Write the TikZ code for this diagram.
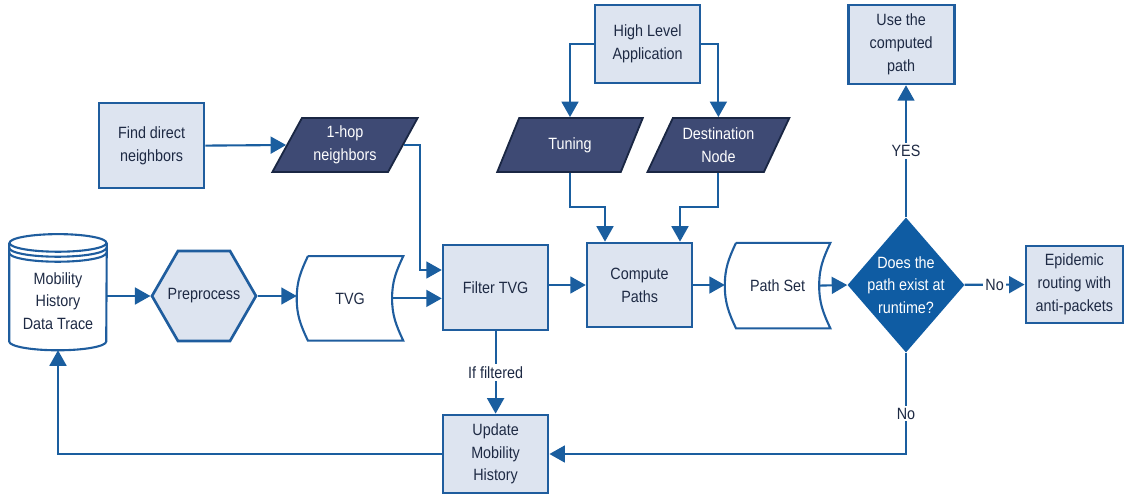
\documentclass[tikz,border=0pt]{standalone}
\usepackage{fontspec}
\setmainfont{Liberation Sans}[FakeStretch=0.88]
\usepackage{xcolor}
\usetikzlibrary{shapes.geometric, arrows.meta, calc}

\definecolor{boxfill}{HTML}{DDE4F0}
\definecolor{boxline}{HTML}{1F5D9E}
\definecolor{navy}{HTML}{3E4A74}
\definecolor{navyline}{HTML}{1A2744}
\definecolor{decfill}{HTML}{0F5CA3}
\definecolor{arrowc}{HTML}{1A5E9F}
\definecolor{txt}{HTML}{1E2A44}

\tikzset{
  procbox/.style={draw=boxline, fill=boxfill, line width=1.9pt, minimum width=2.625cm,
    minimum height=2.125cm, align=center, text=txt, inner sep=2pt},
  iobox/.style={trapezium, trapezium left angle=61, trapezium right angle=119,
    trapezium stretches=true, draw=navyline, fill=navy, line width=1.3pt, text=white,
    minimum width=3.65cm, minimum height=1.35cm, align=center, inner sep=1pt},
  storebox/.style={minimum width=2.65cm, minimum height=2.1cm, align=center, text=txt},
  storeline/.style={draw=boxline, line width=1.5pt},
  prepbox/.style={regular polygon, regular polygon sides=6, minimum size=2.6cm, inner sep=0pt,
    draw=boxline, fill=boxfill, line width=1.9pt},
  decision/.style={diamond, fill=decfill, inner sep=0pt, minimum width=2.925cm,
    minimum height=3.375cm},
  dectext/.style={text=white, align=center},
  arr/.style={draw=arrowc, line width=1.5pt, -{Triangle[length=11pt,width=12pt]}},
  lbl/.style={fill=white, text=txt, inner sep=1.5pt},
}

% stored data outline around a node
\newcommand{\storedshape}[1]{%
  \draw[storeline] ([xshift=0.28cm]#1.north west) -- (#1.north east)
    to[out=-115, in=90] ([xshift=-0.28cm]#1.east)
    to[out=-90, in=115] (#1.south east)
    -- ([xshift=0.28cm]#1.south west)
    to[out=115, in=-90] (#1.west)
    to[out=90, in=-115] ([xshift=0.28cm]#1.north west);}

\begin{document}
\begin{tikzpicture}[font=\fontsize{11.6}{16.2}\selectfont]
    \useasboundingbox (0,0) rectangle (28.1,-12.375);

    % Database
    \node[minimum width=2.425cm, minimum height=2.45cm, align=center, text=txt] (cyl) at (1.45,-7.525) {Mobility\\History\\Data Trace};
    \draw[storeline, fill=white] ([yshift=0.22cm]cyl.north) ellipse[x radius=1.2125cm, y radius=0.22cm];
    \draw[storeline] ([yshift=0.22cm]cyl.north west) -- ([yshift=0.22cm]cyl.south west)
        arc[start angle=180, end angle=360, x radius=1.2125cm, y radius=0.22cm] -- ([yshift=0.22cm]cyl.north east);
    \foreach \s in {0.095,-0.03}
        \draw[storeline] ([yshift=\s cm]cyl.north west) arc[start angle=180, end angle=360, x radius=1.2125cm, y radius=0.22cm];

    % Preprocess and TVG
    \node[prepbox, label={[text=txt]center:Preprocess}] (hex) at (5.1,-7.4) {};
    \node[storebox] (tvg) at (8.75,-7.46) {TVG};
    \storedshape{tvg}

    % Neighbors
    \node[procbox] (find) at (3.79,-3.64) {Find direct\\neighbors};
    \node[iobox] (hop) at (8.625,-3.625) {1-hop\\neighbors};

    % Filter and update
    \node[procbox] (filter) at (12.39,-7.19) {Filter TVG};
    \node[procbox, minimum height=1.95cm] (update) at (12.39,-11.35) {Update\\Mobility\\History};

    % Application inputs
    \node[procbox, minimum height=1.95cm] (hla) at (16.19,-1.1) {High Level\\Application};
    \node[iobox] (tuning) at (14.25,-3.625) {Tuning};
    \node[iobox, minimum width=3.575cm] (dest) at (17.96,-3.625) {Destination\\Node};

    % Paths
    \node[procbox, minimum height=2.1cm] (compute) at (15.99,-7.125) {Compute\\Paths};
    \node[storebox, minimum width=2.625cm, minimum height=2.125cm] (pset) at (19.44,-7.14) {Path Set};
    \storedshape{pset}

    % Decision and results
    \node[decision, label={[dectext]center:Does the\\path exist at\\runtime?}] (dec) at (22.65,-7.125) {};
    \node[procbox, minimum width=2.425cm, minimum height=1.925cm] (epi) at (26.86,-7.11) {Epidemic\\routing with\\anti-packets};
    \node[procbox, minimum width=2.65cm, minimum height=1.975cm] (use) at (22.53,-1.11) {Use the\\computed\\path};

    % Elbows
    \coordinate (hc) at (10.5,-6.75);
    \coordinate (tj) at (15.125,-5.175);
    \coordinate (dj) at (17,-5.175);

    % Connectors
    \draw[arr] (cyl.east |- hex) -- (hex.west);
    \draw[arr] (hex.east) -- (hex.east -| tvg.west);
    \draw[arr] ([xshift=-0.28cm]tvg.east) -- (tvg.east -| filter.west);
    \draw[arr] (find.east) -- (hop.west);
    \draw[arr] (hop.east) -| (hc) -- (hc -| filter.west);
    \draw[arr] (hla.west) -| (tuning);
    \draw[arr] (hla.east) -| (dest);
    \draw[arr] (tuning) |- (tj) -- (tj |- compute.north);
    \draw[arr] (dest) |- (dj) -- (dj |- compute.north);
    \draw[arr] (filter.east |- compute) -- (compute);
    \draw[arr] (compute) -- (compute -| pset.west);
    \draw[arr] ([xshift=-0.28cm]pset.east) -- (dec.west);
    \draw[arr] (dec) -- node[lbl] {No} (epi);
    \draw[arr] (dec.north) -- node[lbl] {YES} (dec.north |- use.south);
    \draw[arr] (dec.south) |- node[lbl, pos=0.3] {No} (update.east);
    \draw[arr] (filter) -- node[lbl] {If filtered} (update);
    \draw[arr] (update.west) -| (cyl.south);
\end{tikzpicture}
\end{document}
